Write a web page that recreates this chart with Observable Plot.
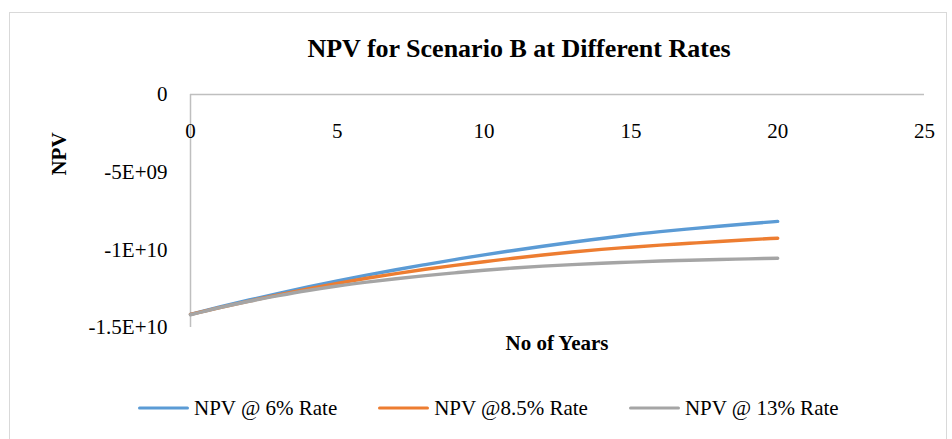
<!DOCTYPE html>
<html>
<head>
<meta charset="utf-8">
<script src="https://cdn.jsdelivr.net/npm/d3@7"></script>
<script src="https://cdn.jsdelivr.net/npm/@observablehq/plot@0.6"></script>
<style>
  html, body { margin: 0; padding: 0; background: #fff; }
  #wrap { position: relative; width: 952px; height: 439px; overflow: hidden; font-family: "Liberation Serif", "Times New Roman", "DejaVu Serif", serif; color: #000; }
  #frame { position: absolute; left: 9px; top: 12px; width: 938px; height: 430px; border: 1.5px solid #d9d9d9; box-sizing: border-box; }
  .lbl { position: absolute; transform: translate(-50%, -50%); white-space: nowrap; font-weight: bold; font-family: "Liberation Serif", "Times New Roman", serif; }
  #legend { position: absolute; left: 138px; top: 408px; transform: translateY(-50%); display: flex; gap: 41px; font-size: 21px; font-family: "Liberation Serif", "Times New Roman", serif; }
  .item { display: flex; align-items: center; gap: 5px; }
  .swatch { width: 51px; height: 3.5px; border-radius: 2px; }
  svg { position: absolute; left: 0; top: 0; }
  svg text { font-family: "Liberation Serif", "Times New Roman", serif; }
</style>
</head>
<body>
<div id="wrap">
  <div id="frame"></div>
</div>
<script>
// ---- data ----
const years = [0,1,2,3,4,5,6,7,8,9,10,11,12,13,14,15,16,17,18,19,20];
const npv6 = [-14.15e9,-13.68e9,-13.23e9,-12.80e9,-12.39e9,-12.00e9,-11.63e9,-11.28e9,-10.95e9,-10.63e9,-10.32e9,-10.04e9,-9.77e9,-9.51e9,-9.27e9,-9.03e9,-8.83e9,-8.65e9,-8.48e9,-8.32e9,-8.17e9];
const npv85 = [-14.15e9,-13.72e9,-13.30e9,-12.90e9,-12.52e9,-12.16e9,-11.83e9,-11.53e9,-11.25e9,-11.00e9,-10.77e9,-10.54e9,-10.33e9,-10.14e9,-9.97e9,-9.83e9,-9.70e9,-9.58e9,-9.46e9,-9.35e9,-9.25e9];
const npv13 = [-14.18e9,-13.72e9,-13.31e9,-12.95e9,-12.62e9,-12.33e9,-12.08e9,-11.86e9,-11.66e9,-11.48e9,-11.31e9,-11.17e9,-11.05e9,-10.95e9,-10.86e9,-10.79e9,-10.72e9,-10.67e9,-10.62e9,-10.58e9,-10.54e9];
const seriesNames = ["NPV @ 6% Rate", "NPV @8.5% Rate", "NPV @ 13% Rate"];
const seriesColors = ["#5B9BD5", "#ED7D31", "#A5A5A5"];
const xTicks = [0, 5, 10, 15, 20, 25];
const yTicks = [0, -5e9, -1e10, -1.5e10];
const yTickLabels = ["0", "-5E+09", "-1E+10", "-1.5E+10"];
const title = "NPV for Scenario B at Different Rates";
const xTitle = "No of Years";
const yTitle = "NPV";

// ---- build table ----
const allSeries = [npv6, npv85, npv13];
const rows = [];
allSeries.forEach((vals, si) => {
  years.forEach((yr, i) => rows.push({year: yr, npv: vals[i], series: seriesNames[si]}));
});

const serif = "'Liberation Serif', 'Times New Roman', serif";
const axisColor = "#bfbfbf";
const chart = Plot.plot({
  width: 952,
  height: 439,
  marginLeft: 190,
  marginRight: 28,
  marginTop: 94,
  marginBottom: 112,
  style: {fontFamily: serif, fontSize: "21px", background: "transparent", overflow: "visible"},
  x: {domain: [0, 25], axis: null},
  y: {domain: [-1.5e10, 0], ticks: yTicks, tickFormat: d => yTickLabels[yTicks.indexOf(d)], tickSize: 0, tickPadding: 23, label: null},
  color: {domain: seriesNames, range: seriesColors},
  marks: [
    Plot.ruleY([0], {x1: 0, x2: 25, stroke: axisColor, strokeWidth: 1.5}),
    Plot.ruleX([0], {y1: 0, y2: -1.5e10, stroke: axisColor, strokeWidth: 1.5}),
    Plot.text(xTicks, {x: d => d, frameAnchor: "top", dy: 37, text: d => String(d), lineAnchor: "middle", fontSize: 21, fontFamily: serif, fill: "#000"}),
    Plot.line(rows, {x: "year", y: "npv", z: "series", stroke: "series", strokeWidth: 3.4, curve: "monotone-x", strokeLinecap: "round", strokeLinejoin: "round"})
  ]
});
const wrap = document.getElementById("wrap");
wrap.appendChild(chart);
chart.querySelectorAll("g[aria-label='y-axis tick label']").forEach(e => e.setAttribute("fill", "#000"));

function addLabel(text, x, y, size, rotate) {
  const d = document.createElement("div");
  d.className = "lbl";
  d.textContent = text;
  d.style.left = x + "px";
  d.style.top = y + "px";
  d.style.fontSize = size + "px";
  if (rotate) d.style.transform = "translate(-50%, -50%) rotate(-90deg)";
  wrap.appendChild(d);
}
addLabel(title, 519, 49, 26);
addLabel(xTitle, 557, 343, 21);
addLabel(yTitle, 59, 154, 21, true);

const legend = document.createElement("div");
legend.id = "legend";
seriesNames.forEach((n, i) => {
  const it = document.createElement("div");
  it.className = "item";
  const sw = document.createElement("div");
  sw.className = "swatch";
  sw.style.background = seriesColors[i];
  const tx = document.createElement("span");
  tx.textContent = n;
  it.appendChild(sw);
  it.appendChild(tx);
  legend.appendChild(it);
});
wrap.appendChild(legend);
</script>
</body>
</html>
